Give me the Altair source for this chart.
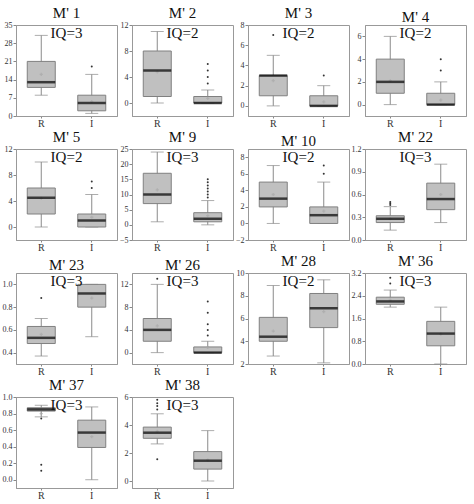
import altair as alt
import pandas as pd

titles = ["M' 1", "M' 2", "M' 3", "M' 4", "M' 5", "M' 9", "M' 10", "M' 22",
          "M' 23", "M' 26", "M' 28", "M' 36", "M' 37", "M' 38"]
iq = [3, 2, 2, 2, 2, 3, 2, 3, 3, 3, 2, 3, 3, 3]
groups = ["R", "I"]

# R group statistics
r_low = [8, 0, 0, 0, 0, 1, 0, 0.13, 0.37, 0, 2.7, 2.0, 0.76, 2.65]
r_q1 = [11, 1, 1, 1, 2, 7, 2, 0.23, 0.48, 2, 4.0, 2.1, 0.83, 3.05]
r_med = [13, 5, 3, 2, 4.5, 10, 3, 0.28, 0.53, 4, 4.4, 2.2, 0.85, 3.45]
r_q3 = [21, 8, 3, 4, 6, 17, 5, 0.32, 0.63, 6, 6.1, 2.35, 0.87, 3.85]
r_high = [31, 11, 5, 6, 10, 24, 7, 0.44, 0.70, 12, 8.9, 2.6, 0.90, 4.8]
r_mean = [16, 4.8, 2.5, 2.1, 4.4, 11.5, 3.5, 0.28, 0.56, 4.7, 4.9, 2.25, 0.80, 3.55]
r_out = [[], [], [7], [], [], [], [], [0.46, 0.48, 0.50], [0.88], [13], [],
         [2.83, 3.03], [0.74, 0.18, 0.11], [5.1, 5.35, 5.55, 5.8, 1.55]]

# I group statistics
i_low = [1, 0, 0, 0, 0, 0, 0, 0.23, 0.54, 0, 2.1, 0.0, 0.0, 0.0]
i_q1 = [2, 0, 0, 0, 0, 1, 0, 0.40, 0.80, 0, 5.2, 0.64, 0.39, 0.85]
i_med = [5, 0, 0, 0, 1, 2, 1, 0.54, 0.92, 0, 6.9, 1.07, 0.57, 1.45]
i_q3 = [8, 1, 1, 1, 2, 4, 2, 0.75, 1.0, 1, 8.2, 1.5, 0.72, 2.1]
i_high = [16, 2, 2, 2, 5, 8, 5, 1.0, 1.0, 2, 9.4, 2.0, 0.88, 3.6]
i_mean = [5.5, 0.7, 0.4, 0.4, 1.5, 3, 1.5, 0.6, 0.88, 0.9, 6.6, 1.05, 0.52, 1.5]
i_out = [[19], [3, 4, 5, 6], [3], [3, 4], [6, 7], [9, 10, 11, 12, 13, 14, 15],
         [6, 7], [], [], [3, 4, 5, 7, 9], [], [], [], []]

# axis domains and tick labels
y_min = [0, -2, -1, -1, -2, -5, -2, 0, 0.3, -2, 2, 0, -0.1, -0.5]
y_max = [35, 12, 8, 7, 12, 25, 9, 1.2, 1.1, 14, 10, 3.2, 1.0, 6]
y_ticks = [
    [0, 7, 14, 21, 28, 35], [0, 4, 8, 12], [0, 2, 4, 6, 8], [0, 2, 4, 6],
    [0, 4, 8, 12], [-5, 0, 5, 10, 15, 20, 25], [-2, 0, 2, 4, 6, 8],
    [0, 0.3, 0.6, 0.9, 1.2], [0.4, 0.6, 0.8, 1.0], [0, 4, 8, 12],
    [2, 4, 6, 8, 10], [0, 0.8, 1.6, 2.4, 3.2], [0, 0.2, 0.4, 0.6, 0.8, 1.0],
    [0, 2, 4, 6],
]
y_fmt = ["d", "d", "d", "d", "d", "d", "d", ".1f", ".1f", "d", "d", ".1f", ".1f", "d"]

FONT = "Liberation Serif"
W, H = 101, 91
BOX_W, CAP_W = 28, 13


def panel(k):
    stats = pd.DataFrame({
        "g": groups,
        "low": [r_low[k], i_low[k]],
        "q1": [r_q1[k], i_q1[k]],
        "med": [r_med[k], i_med[k]],
        "q3": [r_q3[k], i_q3[k]],
        "high": [r_high[k], i_high[k]],
        "mean": [r_mean[k], i_mean[k]],
    })
    outs = pd.DataFrame({
        "g": ["R"] * len(r_out[k]) + ["I"] * len(i_out[k]),
        "v": r_out[k] + i_out[k],
    })
    xs = alt.X("g:N", sort=groups,
               scale=alt.Scale(type="band", domain=groups, paddingInner=0, paddingOuter=0),
               axis=alt.Axis(title=None, labelAngle=0, labelFontSize=10,
                             tickSize=2, labelPadding=0))
    ysc = alt.Scale(domain=[y_min[k], y_max[k]], nice=False, zero=False)
    yax = alt.Axis(title=None, values=y_ticks[k], format=y_fmt[k], labelFontSize=8,
                   tickSize=3, labelPadding=1, labelOverlap=False, labelFlush=False)

    def Y(field):
        return alt.Y(field, scale=ysc, axis=yax)

    base = alt.Chart(stats)
    whisk = base.mark_rule(color="#8a8a8a", strokeWidth=1).encode(
        x=xs, y=Y("low:Q"), y2="high:Q")
    caps_lo = base.mark_tick(color="#8a8a8a", size=CAP_W, thickness=1).encode(
        x=xs, y=Y("low:Q"))
    caps_hi = base.mark_tick(color="#8a8a8a", size=CAP_W, thickness=1).encode(
        x=xs, y=Y("high:Q"))
    box = base.mark_bar(size=BOX_W, color="#c0c0c0", stroke="#808080", strokeWidth=1).encode(
        x=xs, y=Y("q1:Q"), y2="q3:Q")
    mean = base.mark_point(shape="cross", size=10, filled=True, color="#a8a8a8").encode(
        x=xs, y=Y("mean:Q"))
    med = base.mark_tick(color="black", size=BOX_W, thickness=2.5).encode(
        x=xs, y=Y("med:Q"))
    layers = [whisk, caps_lo, caps_hi, box, mean, med]
    if len(outs):
        pts = alt.Chart(outs).mark_circle(size=4, color="#333", opacity=1).encode(
            x=xs, y=Y("v:Q"))
        layers.append(pts)
    label = alt.Chart(pd.DataFrame({"t": ["IQ=" + str(iq[k])]})).mark_text(
        font=FONT, fontSize=15, color="#111", baseline="middle", align="center").encode(
        text="t:N", x=alt.value(W / 2), y=alt.value(8))
    layers.append(label)
    return alt.layer(*layers).properties(
        width=W, height=H,
        title=alt.TitleParams(titles[k], fontSize=15, fontWeight="normal",
                              color="#111", offset=0))


chart = alt.concat(*[panel(k) for k in range(len(titles))], columns=4, spacing=0).properties(
    padding={"left": 1, "top": 5, "right": 0, "bottom": 0}
).configure(
    background="white", font=FONT
).configure_view(
    stroke="#999", strokeWidth=1
).configure_axis(
    labelFont=FONT, labelColor="#333", tickColor="#888", domainColor="#999",
    grid=False, labelOverlap=False
).configure_title(font=FONT)

chart.save("out.html", embed_options={"renderer": "svg", "actions": False})
